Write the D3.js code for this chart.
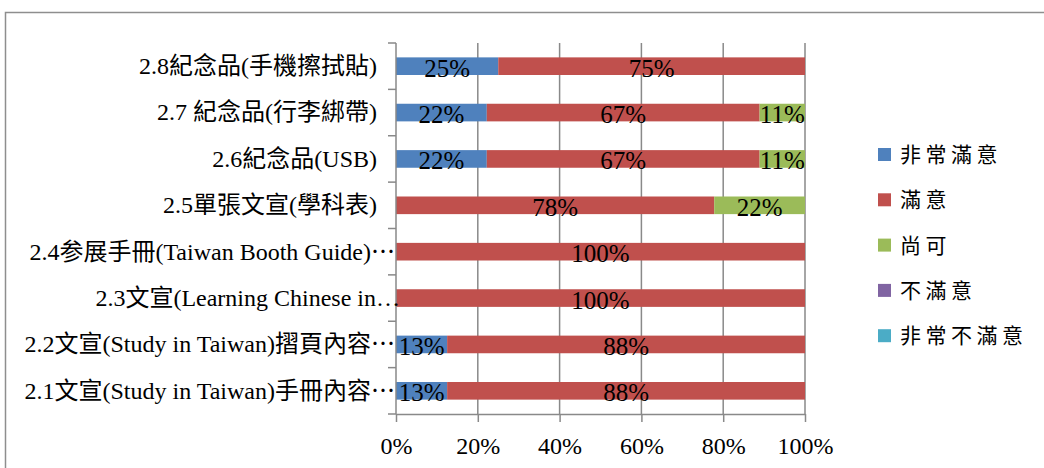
<!DOCTYPE html>
<html>
<head>
<meta charset="utf-8">
<script src="https://cdn.jsdelivr.net/npm/d3@7"></script>
<style>
  html, body { margin: 0; padding: 0; background: #fff; }
  svg { display: block; }
</style>
</head>
<body>
<svg id="chart" width="1044" height="468"></svg>
<script>
// ---- data ----
const categories = [
  "2.1文宣(Study in Taiwan)手冊內容⋯",
  "2.2文宣(Study in Taiwan)摺頁內容⋯",
  "2.3文宣(Learning Chinese in…",
  "2.4参展手冊(Taiwan Booth Guide)⋯",
  "2.5單張文宣(學科表)",
  "2.6紀念品(USB)",
  "2.7 紀念品(行李綁帶)",
  "2.8紀念品(手機擦拭貼)"
];
const seriesNames = ["非常滿意", "滿意", "尚可", "不滿意", "非常不滿意"];
const seriesColors = ["#4F81BD", "#C0504D", "#9BBB59", "#8064A2", "#4BACC6"];
// percentages per category (same order as categories)
const verySatisfied   = [12.5, 12.5, 0, 0, 0, 22.2, 22.2, 25];
const satisfied       = [87.5, 87.5, 100, 100, 77.8, 66.7, 66.7, 75];
const neutral         = [0, 0, 0, 0, 22.2, 11.1, 11.1, 0];
const dissatisfied    = [0, 0, 0, 0, 0, 0, 0, 0];
const veryDissatisfied= [0, 0, 0, 0, 0, 0, 0, 0];
const xTicks = [0, 0.2, 0.4, 0.6, 0.8, 1.0];

const seriesValues = [verySatisfied, satisfied, neutral, dissatisfied, veryDissatisfied];

// ---- layout ----
const svg = d3.select("#chart");
const plot = { left: 396, right: 805, top: 43, bottom: 414 };
const latin = "'Liberation Serif', 'Times New Roman', 'Noto Sans CJK TC', serif";
const gridColor = "#898989";

// outer frame (only top and left visible)
svg.append("rect")
  .attr("x", 5.5).attr("y", 12.5)
  .attr("width", 1200).attr("height", 600)
  .attr("fill", "none").attr("stroke", "#8e8e8e").attr("stroke-width", 1.5);

const x = d3.scaleLinear().domain([0, 1]).range([plot.left, plot.right]);
const y = d3.scaleBand()
  .domain(categories.slice().reverse())
  .range([plot.top, plot.bottom])
  .paddingInner(0.62).paddingOuter(0.31);
const yEdge = d3.scaleLinear().domain([0, categories.length]).range([plot.top, plot.bottom]);

// gridlines
svg.append("g").selectAll("line").data(xTicks.slice(1)).join("line")
  .attr("x1", d => x(d)).attr("x2", d => x(d))
  .attr("y1", plot.top).attr("y2", plot.bottom)
  .attr("stroke", gridColor).attr("stroke-width", 1.5);

// stacked data
const rows = categories.map((c, i) => {
  const o = { cat: c };
  seriesNames.forEach((s, k) => o[s] = seriesValues[k][i] / 100);
  return o;
});
const stack = d3.stack().keys(seriesNames)(rows);

const layers = svg.append("g").selectAll("g").data(stack).join("g")
  .attr("fill", (d, k) => seriesColors[k]);
layers.selectAll("rect").data(d => d).join("rect")
  .attr("x", d => x(d[0]))
  .attr("width", d => Math.max(0, x(d[1]) - x(d[0])))
  .attr("y", d => y(d.data.cat))
  .attr("height", y.bandwidth());

// data labels
const labelG = svg.append("g")
  .attr("font-family", latin).attr("font-size", 25).attr("fill", "#000")
  .attr("text-anchor", "middle");
stack.forEach(layer => {
  layer.forEach(d => {
    const v = d[1] - d[0];
    if (v <= 0) return;
    labelG.append("text")
      .attr("x", (x(d[0]) + x(d[1])) / 2)
      .attr("y", y(d.data.cat) + y.bandwidth() / 2)
      .attr("dy", "0.42em")
      .text(Math.round(v * 100) + "%");
  });
});

// y axis line + ticks at band edges
const yAxisG = svg.append("g");
yAxisG.append("line")
  .attr("x1", plot.left).attr("x2", plot.left)
  .attr("y1", plot.top).attr("y2", plot.bottom)
  .attr("stroke", gridColor).attr("stroke-width", 1.5);
yAxisG.selectAll("line.tick").data(d3.range(categories.length + 1)).join("line")
  .attr("class", "tick")
  .attr("x1", plot.left - 8).attr("x2", plot.left)
  .attr("y1", d => yEdge(d)).attr("y2", d => yEdge(d))
  .attr("stroke", gridColor).attr("stroke-width", 1.5);

// category labels
svg.append("g").selectAll("text").data(categories).join("text")
  .attr("font-family", latin).attr("font-size", 24).attr("fill", "#000")
  .attr("text-anchor", "end")
  .attr("x", d => /…$/.test(d) ? plot.left + 4 : (/⋯$/.test(d) ? plot.left - 1 : plot.left - 19))
  .attr("y", d => y(d) + y.bandwidth() / 2)
  .attr("dy", "0.33em")
  .text(d => d);

// x axis
const xAxis = d3.axisBottom(x).tickValues(xTicks).tickFormat(d3.format(".0%")).tickSize(8).tickSizeOuter(0);
const xg = svg.append("g").attr("transform", `translate(0,${plot.bottom})`).call(xAxis);
xg.select(".domain").attr("stroke", gridColor).attr("stroke-width", 1.5);
xg.selectAll(".tick line").attr("stroke", gridColor).attr("stroke-width", 1.5);
xg.selectAll(".tick text")
  .attr("font-family", latin).attr("font-size", 24).attr("fill", "#000")
  .attr("dy", "1.2em");

// legend
const legend = svg.append("g").attr("transform", "translate(878,148)");
const li = legend.selectAll("g").data(seriesNames).join("g")
  .attr("transform", (d, i) => `translate(0,${i * 45.3})`);
li.append("rect").attr("width", 13).attr("height", 13)
  .attr("fill", (d, i) => seriesColors[i]);
li.append("text")
  .attr("x", 22).attr("y", 6.5).attr("dy", "0.36em")
  .attr("font-family", "'Noto Sans CJK TC', sans-serif")
  .attr("font-size", 21).attr("letter-spacing", 4.5).attr("fill", "#000")
  .text(d => d);
</script>
</body>
</html>
